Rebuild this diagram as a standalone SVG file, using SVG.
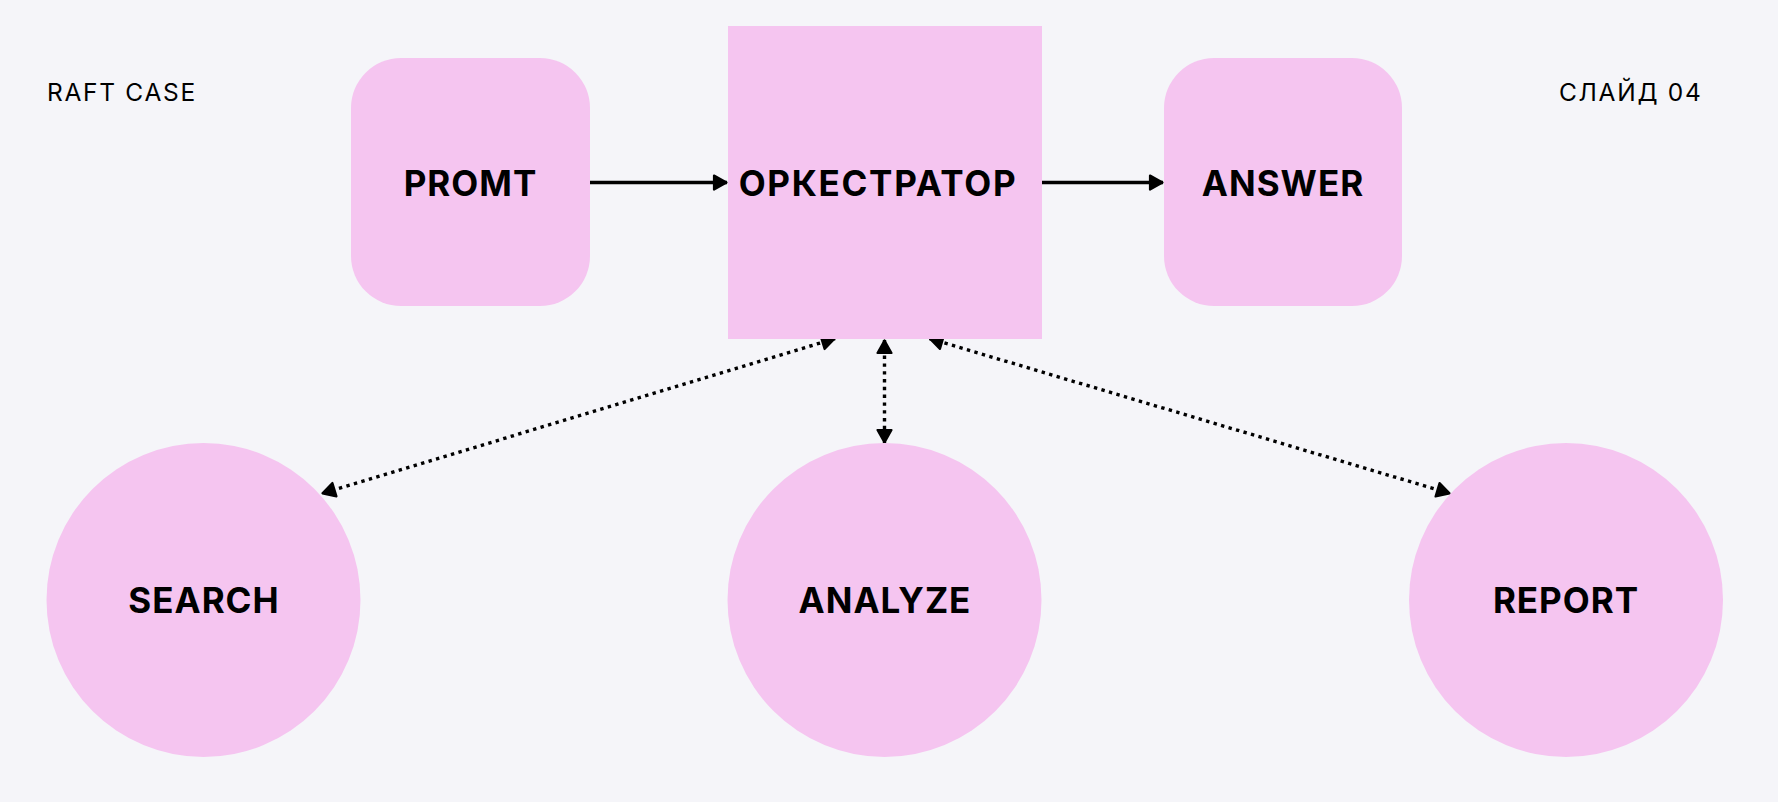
<svg xmlns="http://www.w3.org/2000/svg" width="1778" height="802" viewBox="0 0 1778 802">
<defs>
<style>
.bg{fill:#f5f5f9}
.node{fill:#f5c5f0}
.lbl{font-family:Inter,"Noto Sans","Liberation Sans",sans-serif;font-weight:700;font-size:35px;fill:#000;text-anchor:middle;letter-spacing:1px}
.hdr{font-family:Inter,"Noto Sans","Liberation Sans",sans-serif;font-weight:400;font-size:24.5px;fill:#000;letter-spacing:1.7px}
.solid{stroke:#000;stroke-width:3.3;fill:none}
.dot{stroke:#000;stroke-width:3.4;fill:none;stroke-dasharray:3.4 4.4}
</style>
<marker id="ah" markerUnits="userSpaceOnUse" viewBox="0 0 17 19" markerWidth="17" markerHeight="19" refX="15" refY="9.5" orient="auto-start-reverse">
<path d="M2,2.5 L14.5,9.5 L2,16.5 Z" fill="#000" stroke="#000" stroke-width="2.2" stroke-linejoin="round"/>
</marker>
</defs>
<rect class="bg" x="0" y="0" width="1778" height="802"/>
<text class="hdr" x="47" y="101">RAFT CASE</text>
<text class="hdr" x="1559" y="101">СЛАЙД 04</text>
<g id="connectors">
<line class="solid" x1="590" y1="182.5" x2="727" y2="182.5" marker-end="url(#ah)"/>
<line class="solid" x1="1042" y1="182.5" x2="1163" y2="182.5" marker-end="url(#ah)"/>
<line class="dot" x1="835" y1="338.5" x2="322" y2="493.5" marker-start="url(#ah)" marker-end="url(#ah)"/>
<line class="dot" x1="884.5" y1="340" x2="884.5" y2="443" marker-start="url(#ah)" marker-end="url(#ah)"/>
<line class="dot" x1="929.5" y1="338.5" x2="1450" y2="493.5" marker-start="url(#ah)" marker-end="url(#ah)"/>
</g>
<g id="promt">
<rect class="node" x="351" y="58" width="239" height="248" rx="50" ry="50"/>
<text class="lbl" x="470.5" y="196">PROMT</text>
</g>
<g id="orchestrator">
<rect class="node" x="728" y="26" width="314" height="313"/>
<text class="lbl" x="878" y="196" style="letter-spacing:1.7px">ОРКЕСТРАТОР</text>
</g>
<g id="answer">
<rect class="node" x="1164" y="58" width="238" height="248" rx="50" ry="50"/>
<text class="lbl" x="1283" y="196">ANSWER</text>
</g>
<g id="search">
<circle class="node" cx="203.5" cy="600" r="157"/>
<text class="lbl" x="204" y="612.5">SEARCH</text>
</g>
<g id="analyze">
<circle class="node" cx="884.5" cy="600" r="157"/>
<text class="lbl" x="885" y="612.5">ANALYZE</text>
</g>
<g id="report">
<circle class="node" cx="1566" cy="600" r="157"/>
<text class="lbl" x="1566" y="612.5">REPORT</text>
</g>
</svg>
